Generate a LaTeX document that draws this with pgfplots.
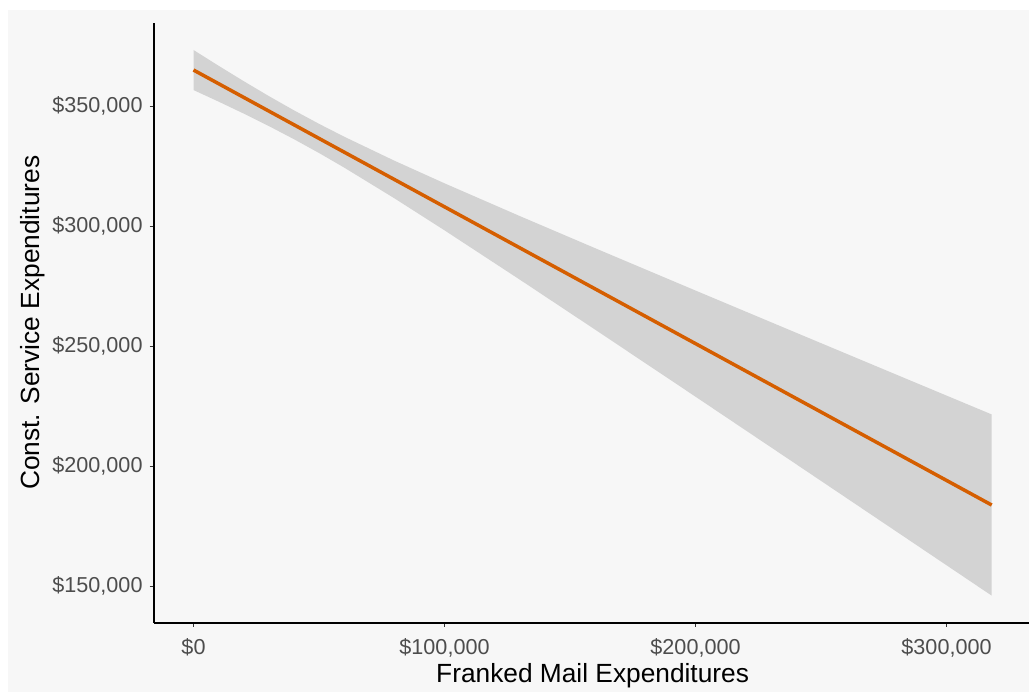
\documentclass[border=0pt]{standalone}
\usepackage{pgfplots}
\pgfplotsset{compat=1.18}
\usepackage{fontspec}
\setmainfont{Liberation Sans}
\definecolor{bg}{HTML}{F7F7F7}
\definecolor{ribbon}{HTML}{D3D3D3}
\definecolor{fitline}{HTML}{D55E00}
\definecolor{ticklab}{HTML}{4D4D4D}
\definecolor{tickcol}{HTML}{333333}
\begin{document}
\begin{tikzpicture}
\useasboundingbox (0,0) rectangle (514.5pt,-346.5pt);
\fill[bg] (4.2pt,-5pt) rectangle (514.5pt,-345.8pt);
\begin{axis}[
  at={(76.8pt,-311.45pt)}, anchor=south west,
  width=439pt, height=300.1pt, scale only axis,
  xmin=-15900, xmax=333900, ymin=134622, ymax=384713,
  axis lines=left,
  axis line style={-, black, line width=1pt},
  tick align=outside,
  major tick length=2pt,
  tick style={color=tickcol, line width=0.5pt},
  xtick={0,100000,200000,300000},
  xticklabels={{\$0},{\$100,000},{\$200,000},{\$300,000}},
  ytick={150000,200000,250000,300000,350000},
  yticklabels={{\$150,000},{\$200,000},{\$250,000},{\$300,000},{\$350,000}},
  ticklabel style={font=\fontsize{10.8}{13}\selectfont, color=ticklab},
  xticklabel style={yshift=-2.5pt},
  xlabel={Franked Mail Expenditures},
  ylabel={Const. Service Expenditures},
  label style={font=\fontsize{13.15}{15.5}\selectfont, color=black},
  xlabel style={at={(axis description cs:0.5,-0.0883)}, anchor=center},
  ylabel style={at={(axis description cs:-0.1378,0.5)}, anchor=center},
  scaled ticks=false,
]
% confidence band: upper edge left to right, then lower edge right to left
\addplot[fill=ribbon, draw=none] coordinates {
 (0,373345) (10000,366767) (20000,360350) (30000,354146) (40000,348212)
 (50000,342578) (60000,337234) (80000,327232) (100000,317795) (130000,304143)
 (160000,290766) (200000,273116) (240000,255570) (280000,238078) (318000,221490)
 (318000,145990) (280000,172722) (240000,200830) (200000,228884) (160000,256834)
 (130000,277657) (100000,298205) (80000,311568) (60000,324366) (50000,330422)
 (40000,336188) (30000,341654) (20000,346850) (10000,351833) (0,356655)
} -- cycle;
\addplot[fitline, line width=1.75pt] coordinates {(0,365000) (318000,183740)};
\end{axis}
\end{tikzpicture}
\end{document}
